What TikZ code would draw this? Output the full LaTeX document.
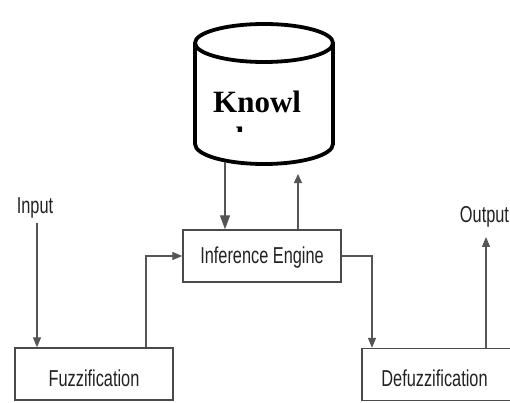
\documentclass[tikz,border=0pt]{standalone}
\usepackage{fontspec}
\usepackage{graphicx}
\usetikzlibrary{arrows.meta}
\newfontfamily\sansA{Liberation Sans}
\newfontfamily\serifB{Liberation Serif}
\definecolor{linegray}{HTML}{555555}
\definecolor{boxgray}{HTML}{4A4A4A}
\definecolor{txtgray}{HTML}{222222}
\newcommand{\lbltext}[1]{\scalebox{0.71}[1]{#1}}
\tikzset{
  blockbox/.style={draw=boxgray, line width=1.4pt, fill=white, minimum height=52pt, inner sep=0pt,
    font=\sansA\fontsize{23}{27}\selectfont, text=txtgray, text depth=0pt},
  lbl/.style={inner sep=0pt, font=\sansA\fontsize{23}{27}\selectfont, text=txtgray},
  conn/.style={draw=linegray, line width=1.3pt, -{Triangle[length=10pt,width=8pt]}},
  kbline/.style={draw=black, line width=3.8pt},
  kbtext/.style={inner sep=0pt, font=\serifB\bfseries\fontsize{31}{36}\selectfont, text=black}
}
\begin{document}
\begin{tikzpicture}[x=1pt,y=-1pt]
\clip (0,0) rectangle (510,402);
\fill[white] (0,0) rectangle (510,402);

% knowledge base cylinder
\draw[kbline] (264,43) ellipse [x radius=69pt, y radius=19pt];
\draw[kbline] (195,43) -- (195,144) arc[start angle=180, end angle=360, x radius=69pt, y radius=20pt] -- (333,43);
\node[kbtext, anchor=base west] (kbt) at (213,112) {Knowl};
\begin{scope}
  \clip (200,118) rectangle (248,131);
  \node[kbtext, anchor=base west] (kbt2) at (213,148) {edge};
\end{scope}
\coordinate (kbL) at (225,162);
\coordinate (kbR) at (298,174);

% blocks
\node[blockbox, minimum width=158pt, text height=14pt] (inf) at (262,256) {\lbltext{Inference Engine}};
\node[blockbox, minimum width=158pt, text height=25pt] (fuzz) at (94,374) {\lbltext{Fuzzification}};
\node[blockbox, minimum width=160pt, text height=24.4pt] (defuzz) at (442,374.5) {\hspace*{-15pt}\lbltext{Defuzzification}};

% labels
\node[lbl, anchor=base] (inp) at (35,213) {\lbltext{Input}};
\node[lbl, anchor=base] (outp) at (484.5,222) {\lbltext{Output}};

% connectors
\draw[conn, -{Triangle[length=14pt,width=10pt]}] (kbL) -- (kbL |- inf.north);
\draw[conn, -{Triangle[length=9pt,width=8pt]}] (kbR |- inf.north) -- (kbR);

\coordinate (inA) at ([xshift=2pt,yshift=-5pt]inp.south);
\draw[conn] (inA) -- (inA |- fuzz.north);

\draw[conn] ([xshift=52pt]fuzz.north) |- (inf.west);

\draw[conn] (inf.east) -| ([xshift=-70pt]defuzz.north);

\coordinate (outA) at ([xshift=44pt]defuzz.north);
\draw[conn, shorten >=10pt] (outA) -- (outA |- outp.south);
\end{tikzpicture}
\end{document}
